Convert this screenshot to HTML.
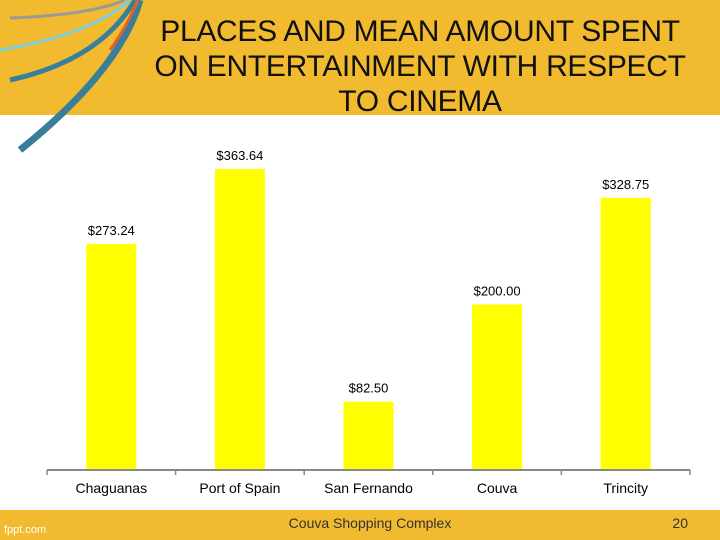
<!DOCTYPE html>
<html><head><meta charset="utf-8"><style>
body{margin:0;width:720px;height:540px;overflow:hidden;background:#fff;font-family:"Liberation Sans",sans-serif;position:relative}
#hdr{position:absolute;left:0;top:0;width:720px;height:115px;background:#f2bb2f}
#ttl{position:absolute;left:120px;width:600px;top:14px;text-align:center;font-size:30px;line-height:35px;color:#111;letter-spacing:-0.3px;z-index:3}
#ftr{position:absolute;left:0;top:510px;width:720px;height:30px;background:#f2bb2f}
#ftr .c{position:absolute;left:0;width:740px;text-align:center;top:5px;font-size:14px;color:#333}
#ftr .n{position:absolute;right:32px;top:5px;font-size:14px;color:#333}
#ftr .f{position:absolute;left:4px;top:14px;font-size:11px;color:#fff}
svg{position:absolute;left:0;top:0}
</style></head><body>
<div id="hdr"></div>
<div id="ttl">PLACES AND MEAN AMOUNT SPENT<br>ON ENTERTAINMENT WITH RESPECT<br>TO CINEMA</div>
<svg width="720" height="540" style="z-index:1">
<path d="M140 0 Q120 70 20 150" stroke="#3a7f99" stroke-width="7" fill="none"/>
<path d="M135 0 Q100 60 10 80" stroke="#3a7f99" stroke-width="5" fill="none"/>
<path d="M130 0 Q90 35 0 50" stroke="#7ccde0" stroke-width="3" fill="none"/>
<path d="M125 0 Q90 15 10 18" stroke="#999" stroke-width="3" fill="none"/>
<path d="M138 0 Q125 30 110 50" stroke="#e2622a" stroke-width="3" fill="none"/>
</svg>
<svg id="chart" width="720" height="540" style="z-index:2"></svg>
<div id="ftr"><span class="f">fppt.com</span><span class="c">Couva Shopping Complex</span><span class="n">20</span></div>
<script>
const categories=["Chaguanas","Port of Spain","San Fernando","Couva","Trincity"];
const values=[273.24,363.64,82.50,200.00,328.75];
const valueLabels=["$273.24","$363.64","$82.50","$200.00","$328.75"];
const NS="http://www.w3.org/2000/svg",svg=document.getElementById("chart");
const x0=47,x1=690,yBase=470,scale=301/363.64,bw=50;
const step=(x1-x0)/categories.length;
const xC=i=>x0+step*(i+0.5), yV=v=>yBase-v*scale;
function mk(t,a){const e=document.createElementNS(NS,t);for(const k in a)e.setAttribute(k,a[k]);svg.appendChild(e);return e;}
categories.forEach((c,i)=>{
 const r=mk("rect",{x:xC(i)-bw/2,y:yV(values[i]),width:bw,height:yBase-yV(values[i]),fill:"#ffff00"});
 
 
 const l=mk("text",{x:xC(i),y:yV(values[i])-9,"text-anchor":"middle","font-size":"13","font-family":"Liberation Sans, sans-serif",fill:"#000"});
 l.textContent=valueLabels[i];
 
 
 const t=mk("text",{x:xC(i),y:493,"text-anchor":"middle","font-size":"14","font-family":"Liberation Sans, sans-serif",fill:"#000"});
 t.textContent=c;
 
 
});
const ax=mk("line",{x1:x0,x2:x1,y1:yBase,y2:yBase,stroke:"#888","stroke-width":2});


for(let i=0;i<=categories.length;i++){
 const tk=mk("line",{x1:x0+step*i,x2:x0+step*i,y1:yBase,y2:yBase+5,stroke:"#888","stroke-width":1.5});
 
 
}
</script>
</body></html>
